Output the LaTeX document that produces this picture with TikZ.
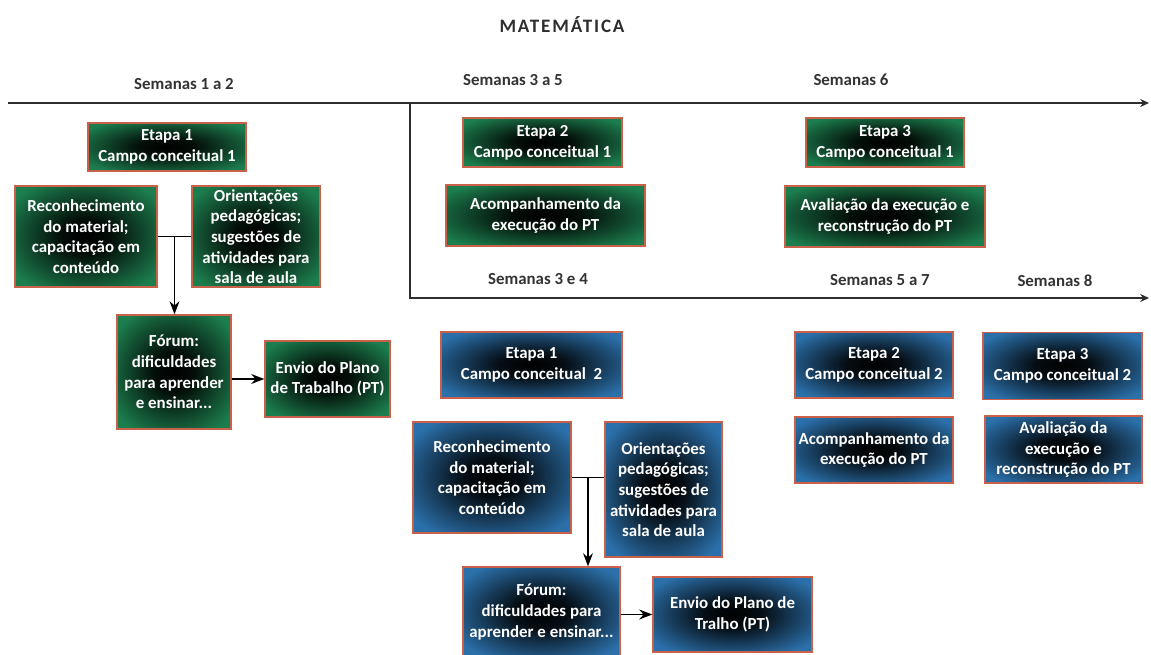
\documentclass[tikz,border=0pt]{standalone}
\usepackage{fontspec}
\setmainfont{Carlito}
\newfontfamily\titlefont[LetterSpace=10]{Carlito}
\usepackage{tikz}
\usetikzlibrary{arrows.meta, positioning, calc}

\definecolor{greenedge}{HTML}{1C7D4D}
\definecolor{blueedge}{HTML}{2B70AA}
\definecolor{boxline}{HTML}{C8604A}
\definecolor{linegray}{HTML}{2E2E2E}
\definecolor{labelgray}{HTML}{333333}
\pgfdeclareradialshading{greenglow}{\pgfpoint{0bp}{0bp}}{color(0bp)=(black); color(9bp)=(black!88!greenedge); color(31bp)=(greenedge); color(50bp)=(greenedge)}
\pgfdeclareradialshading{blueglow}{\pgfpoint{0bp}{0bp}}{color(0bp)=(black); color(9bp)=(black!88!blueedge); color(31bp)=(blueedge); color(50bp)=(blueedge)}

\begin{document}
\begin{tikzpicture}[
    x=0.025cm, y=-0.025cm,
    >=Stealth,
    stage/.style={rectangle, draw=boxline, line width=0.9pt, align=center,
                  inner sep=0pt, text=white,
                  font=\bfseries\fontsize{12}{14.7}\selectfont},
    greenbox/.style={stage, shading=greenglow},
    bluebox/.style={stage, shading=blueglow},
    week/.style={font=\bfseries\fontsize{12}{14}\selectfont, text=labelgray},
    timeline/.style={line width=2pt, draw=linegray,
                     -{Stealth[length=2.2mm, width=2mm]}},
    link/.style={line width=1.4pt, draw=black}
]
\useasboundingbox (0,0) rectangle (1151,655);

\node[font=\titlefont\bfseries\fontsize{13.5}{16}\selectfont, text=linegray]
    (title) at (562,25) {MATEMÁTICA};

% Time axis, split after the first two weeks.
\coordinate (axis start) at (8,103);
\coordinate (axis end) at (1149,103);
\coordinate (split top) at (410,103);
\coordinate (split low) at (410,298);
\coordinate (axis low end) at (1149,298);
\draw[timeline] (axis start) -- (axis end);
\draw[timeline] (split top) -- (split low) -- (axis low end);

\node[week] (w12) at (184,84) {Semanas 1 a 2};
\node[week] (w35) at (513,80) {Semanas 3 a 5};
\node[week] (w6) at (851,80) {Semanas 6};
\node[week] (w34) at (538,279) {Semanas 3 e 4};
\node[week] (w57) at (880,280) {Semanas 5 a 7};
\node[week] (w8) at (1055,281) {Semanas 8};

% First conceptual field.
\node[greenbox, minimum width=3.95cm, minimum height=1.2cm] (gstep1) at (167,147)
    {Etapa 1\\Campo conceitual 1};
\node[greenbox, minimum width=3.55cm, minimum height=2.525cm] (grecon) at (86,236.5)
    {Reconhecimento\\do material;\\capacitação em\\conteúdo};
\node[greenbox, minimum width=3.2cm, minimum height=2.525cm] (gorient) at (256,236.5)
    {Orientações\\pedagógicas;\\sugestões de\\atividades para\\sala de aula};
\node[greenbox, minimum width=2.85cm, minimum height=2.85cm] (gforum) at (174,372)
    {Fórum:\\dificuldades\\para aprender\\e ensinar...};
\node[greenbox, minimum width=3.125cm, minimum height=1.9cm] (genvio) at (327.5,379)
    {Envio do Plano\\de Trabalho (PT)};
\node[greenbox, minimum width=3.975cm, minimum height=1.225cm] (gstep2) at (542.5,142.5)
    {Etapa 2\\Campo conceitual 1};
\node[greenbox, minimum width=4.975cm, minimum height=1.525cm] (gfollow) at (545.5,215.5)
    {Acompanhamento da\\execução do PT};
\node[greenbox, minimum width=3.95cm, minimum height=1.225cm] (gstep3) at (885,142.5)
    {Etapa 3\\Campo conceitual 1};
\node[greenbox, minimum width=5cm, minimum height=1.525cm] (geval) at (885,216.5)
    {Avaliação da execução e\\reconstrução do PT};

\coordinate (gjoin) at ($(grecon.east)!0.5!(gorient.west)$);
\draw[link] (grecon.east) -- (gorient.west);
\draw[link, ->] (gjoin) -- (gjoin |- gforum.north);
\draw[link, ->] (gforum.east |- genvio.west) -- (genvio.west);

% Second conceptual field.
\node[bluebox, minimum width=4.525cm, minimum height=1.65cm] (bstep1) at (531.5,365)
    {Etapa 1\\Campo conceitual~~2};
\node[bluebox, minimum width=3.95cm, minimum height=2.775cm] (brecon) at (492,477.5)
    {Reconhecimento\\do material;\\capacitação em\\conteúdo};
\node[bluebox, minimum width=2.925cm, minimum height=3.375cm] (borient) at (663.5,489.5)
    {Orientações\\pedagógicas;\\sugestões de\\atividades para\\sala de aula};
\node[bluebox, minimum width=3.925cm, minimum height=2.25cm] (bforum) at (541.5,612)
    {Fórum:\\dificuldades para\\aprender e ensinar...};
\node[bluebox, minimum width=3.975cm, minimum height=1.875cm] (benvio) at (732.5,614.5)
    {Envio do Plano de\\Tralho (PT)};
\node[bluebox, minimum width=3.95cm, minimum height=1.65cm] (bstep2) at (874,365)
    {Etapa 2\\Campo conceitual 2};
\node[bluebox, minimum width=3.975cm, minimum height=1.675cm] (bstep3) at (1062.5,366)
    {Etapa 3\\Campo conceitual 2};
\node[bluebox, minimum width=3.95cm, minimum height=1.65cm] (bfollow) at (874,450)
    {Acompanhamento da\\execução do PT};
\node[bluebox, minimum width=3.925cm, minimum height=1.675cm] (beval) at (1063.5,449.5)
    {Avaliação da\\execução e\\reconstrução do PT};

\coordinate (bjoin) at ($(brecon.east)!0.5!(brecon.east -| borient.west)$);
\draw[link] (brecon.east) -- (brecon.east -| borient.west);
\draw[link, ->] (bjoin) -- (bjoin |- bforum.north);
\draw[link, ->] (bforum.east |- benvio.west) -- (benvio.west);
\end{tikzpicture}
\end{document}
